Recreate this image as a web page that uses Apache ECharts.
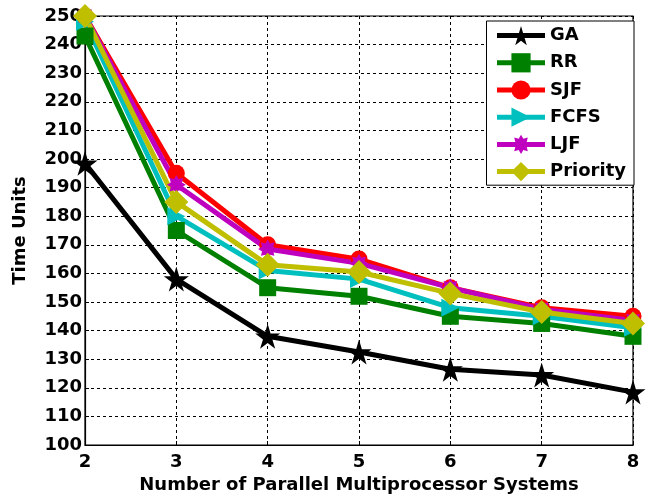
<!DOCTYPE html>
<html><head><meta charset="utf-8">
<script src="https://cdn.jsdelivr.net/npm/echarts@6/dist/echarts.min.js"></script>
<style>html,body{margin:0;padding:0;background:#fff}#c{width:647px;height:499px}</style>
</head><body><div id="c"></div>
<script>
const xValues = [2, 3, 4, 5, 6, 7, 8];
const seriesNames = ['GA', 'RR', 'SJF', 'FCFS', 'LJF', 'Priority'];
const GA = [198.5, 158, 138, 132.5, 126.5, 124.5, 118.5];
const RR = [243, 175, 155, 152, 145, 142.5, 138];
const SJF = [250, 195, 170, 165, 155, 148, 145];
const FCFS = [248, 180, 161, 158, 148, 145, 141];
const LJF = [250, 191, 168.5, 163.5, 155, 147.5, 143.5];
const Priority = [250, 185, 163, 160.5, 153, 146.5, 142.5];
const yTicks = {min: 100, max: 250, step: 10};
const xTicks = {min: 2, max: 8, step: 1};

const FONT = 'DejaVu Sans';
const starPath = 'path://M50,0 L61,35 L98,35 L68,57 L79,91 L50,70 L21,91 L32,57 L2,35 L39,35 Z';
const burstPath = 'path://M100,50 L79.6,62.2 L85.4,85.4 L62.2,79.6 L50,100 L37.8,79.6 L14.6,85.4 L20.4,62.2 L0,50 L20.4,37.8 L14.6,14.6 L37.8,20.4 L50,0 L62.2,20.4 L85.4,14.6 L79.6,37.8 Z';
const styles = {
  GA: {color: '#000000', symbol: starPath, size: 25, rotate: 0},
  RR: {color: '#008000', symbol: 'rect', size: 17, rotate: 0},
  SJF: {color: '#ff0000', symbol: 'circle', size: 17, rotate: 0},
  FCFS: {color: '#00bfbf', symbol: 'triangle', size: 18, rotate: -90},
  LJF: {color: '#bf00bf', symbol: burstPath, size: 19, rotate: 0},
  Priority: {color: '#bfbf00', symbol: 'diamond', size: 24, rotate: 0}
};
const dataMap = {GA, RR, SJF, FCFS, LJF, Priority};

const series = seriesNames.map(n => ({
  name: n,
  type: 'line',
  data: xValues.map((x, i) => [x, dataMap[n][i]]),
  symbol: styles[n].symbol,
  symbolSize: styles[n].size,
  symbolRotate: styles[n].rotate,
  showAllSymbol: true,
  lineStyle: {color: styles[n].color, width: 5},
  itemStyle: {color: styles[n].color, borderWidth: 0},
  emphasis: {disabled: true},
  animation: false
}));

const chart = echarts.init(document.getElementById('c'), null, {renderer: 'canvas'});
chart.setOption({
  backgroundColor: '#fff',
  animation: false,
  grid: {left: 85, right: 14, top: 16, bottom: 50, show: true, borderColor: '#000', borderWidth: 1.2, backgroundColor: 'transparent'},
  legend: {
    data: seriesNames,
    orient: 'vertical',
    right: 13, top: 21,
    itemWidth: 48, itemHeight: 24, itemGap: 8,
    padding: [5, 8, 4, 8],
    borderColor: '#000', borderWidth: 1, backgroundColor: '#fff',
    lineStyle: {width: 5},
    textStyle: {fontFamily: FONT, fontWeight: 'bold', fontSize: 18, color: '#000'}
  },
  xAxis: {
    type: 'value', min: xTicks.min, max: xTicks.max, interval: xTicks.step,
    name: 'Number of Parallel Multiprocessor Systems', nameLocation: 'middle', nameGap: 31,
    nameTextStyle: {fontFamily: FONT, fontWeight: 'bold', fontSize: 18, color: '#000'},
    axisLine: {lineStyle: {color: '#000', width: 1.2}},
    axisTick: {inside: true, length: 4, lineStyle: {color: '#000'}},
    axisLabel: {fontFamily: FONT, fontWeight: 'bold', fontSize: 18, color: '#000', margin: 8},
    splitLine: {show: true, lineStyle: {color: '#000', type: [3, 3], width: 1}}
  },
  yAxis: {
    type: 'value', min: yTicks.min, max: yTicks.max, interval: yTicks.step,
    name: 'Time Units', nameLocation: 'middle', nameGap: 56,
    nameTextStyle: {fontFamily: FONT, fontWeight: 'bold', fontSize: 18, color: '#000'},
    axisLine: {show: true, lineStyle: {color: '#000', width: 1.2}},
    axisTick: {show: true, inside: true, length: 4, lineStyle: {color: '#000'}},
    axisLabel: {fontFamily: FONT, fontWeight: 'bold', fontSize: 18, color: '#000', margin: 3},
    splitLine: {show: true, lineStyle: {color: '#000', type: [3, 3], width: 1}}
  },
  series: series
});
</script>
</body></html>
